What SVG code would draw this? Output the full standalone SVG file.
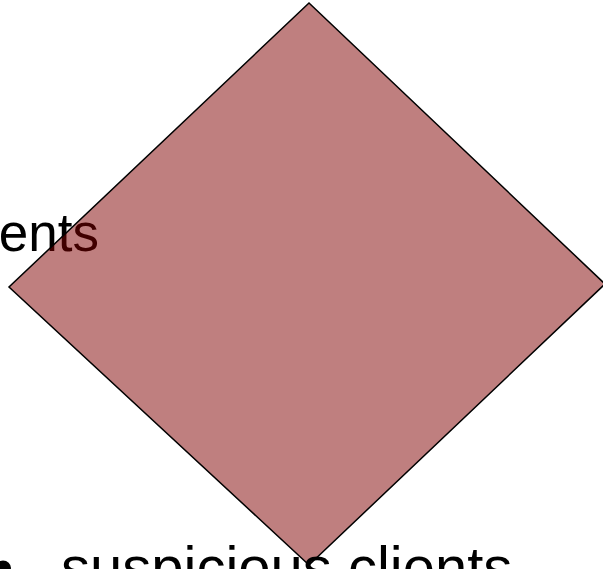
<svg xmlns="http://www.w3.org/2000/svg" width="603" height="569" viewBox="0 0 603 569">
<style>
.t{font-family:"Liberation Sans",Arial,sans-serif;fill:#000}
.d{fill:#800000;fill-opacity:0.5;stroke:#000;stroke-width:1.5}
</style>
<rect width="603" height="569" fill="#fff"/>
<text class="t" x="99" y="251" font-size="53" text-anchor="end">ents</text>
<g id="diamond">
<polygon class="d" points="309,3 605,284 309,565 9,287"/>
</g>
<text class="t" x="-7" y="587" font-size="58">•</text>
<text class="t" x="61" y="587" font-size="58">suspicious clients</text>
</svg>
